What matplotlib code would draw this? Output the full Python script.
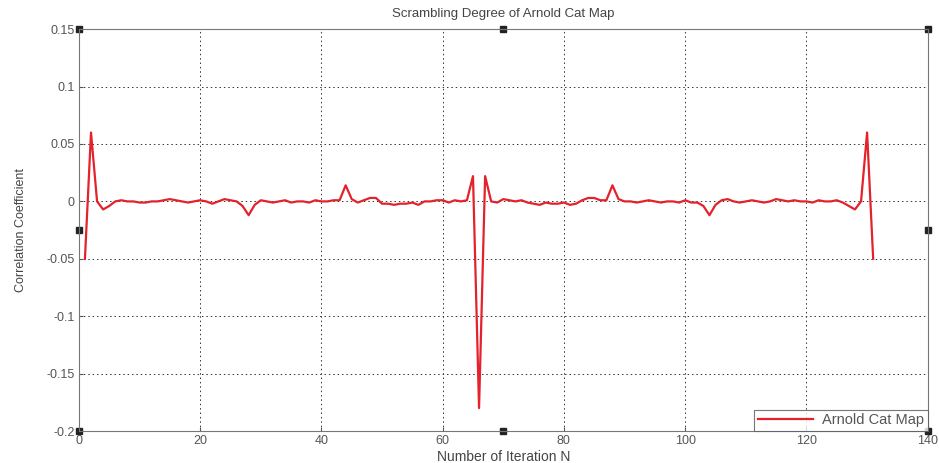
import matplotlib
matplotlib.use("Agg")
import matplotlib.pyplot as plt

iterations = list(range(1, 132))
correlation = [
    -0.050, 0.060, 0.000, -0.007, -0.004, 0.000, 0.001, 0.000, 0.000, -0.001,
    -0.001, 0.000, 0.000, 0.001, 0.002, 0.001, 0.000, -0.001, 0.000, 0.001,
    0.000, -0.002, 0.000, 0.002, 0.001, 0.000, -0.004, -0.012, -0.003, 0.001,
    0.000, -0.001, 0.000, 0.001, -0.001, 0.000, 0.000, -0.001, 0.001, 0.000,
    0.000, 0.001, 0.001, 0.014, 0.002, -0.001, 0.001, 0.003, 0.003, -0.002,
    -0.002, -0.003, -0.002, -0.002, -0.001, -0.003, 0.000, 0.000, 0.001, 0.001,
    -0.001, 0.001, 0.000, 0.001, 0.022, -0.180, 0.022, 0.000, -0.001, 0.002,
    0.001, 0.000, 0.001, -0.001, -0.002, -0.003, -0.001, -0.002, -0.002, -0.001,
    -0.003, -0.002, 0.001, 0.003, 0.003, 0.001, 0.001, 0.014, 0.002, 0.000,
    0.000, -0.001, 0.000, 0.001, 0.000, -0.001, 0.000, 0.000, -0.001, 0.001,
    -0.001, -0.001, -0.004, -0.012, -0.003, 0.001, 0.002, 0.000, -0.001, 0.000,
    0.001, 0.000, -0.001, 0.000, 0.002, 0.001, 0.000, 0.001, 0.000, 0.000,
    -0.001, 0.001, 0.000, 0.000, 0.001, -0.001, -0.004, -0.007, 0.000, 0.060,
    -0.050,
]
x_ticks = [0, 20, 40, 60, 80, 100, 120, 140]
y_ticks = [-0.2, -0.15, -0.1, -0.05, 0, 0.05, 0.1, 0.15]
y_tick_labels = ["-0.2", "-0.15", "-0.1", "-0.05", "0", "0.05", "0.1", "0.15"]

plt.rcParams['font.family'] = ['Liberation Sans', 'DejaVu Sans']
fig = plt.figure(figsize=(9.39, 4.63), dpi=100)
ax = fig.add_axes([0.084, 0.069, 0.904, 0.868])

ax.plot(iterations, correlation, color='#e3222c', linewidth=1.6, label='Arnold Cat Map')

ax.set_xlim(0, 140)
ax.set_ylim(-0.2, 0.15)
ax.set_xticks(x_ticks)
ax.set_yticks(y_ticks)
ax.set_yticklabels(y_tick_labels)
ax.grid(True, color='#333333', linestyle=(0, (1.5, 3)), linewidth=0.7)
ax.tick_params(direction='in', length=3, labelsize=9, colors='#555555', pad=3)
for s in ax.spines.values():
    s.set_color('#777777')
    s.set_linewidth(0.8)

ax.set_title('Scrambling Degree of Arnold Cat Map', fontsize=9.5, color='#444444', pad=9)
ax.set_xlabel('Number of Iteration N', fontsize=10, color='#444444', labelpad=2)
ax.set_ylabel('Correlation Coefficient', fontsize=9, color='#444444', labelpad=14)

leg = ax.legend(loc='lower right', fontsize=10.5, frameon=True, fancybox=False,
                borderaxespad=0.0, handlelength=3.8, handletextpad=0.6, borderpad=0.25)
leg.get_frame().set_edgecolor('#555555')
leg.get_frame().set_linewidth(0.8)
for t in leg.get_texts():
    t.set_color('#555555')

# selection handles (small black squares)
hx = [0, 0.5, 1, 0, 1, 0, 0.5, 1]
hy = [1, 1, 1, 0.5, 0.5, 0, 0, 0]
ax.plot(hx, hy, 's', color='#222222', markersize=4, transform=ax.transAxes, clip_on=False)

fig.savefig('out.png', dpi=100)
